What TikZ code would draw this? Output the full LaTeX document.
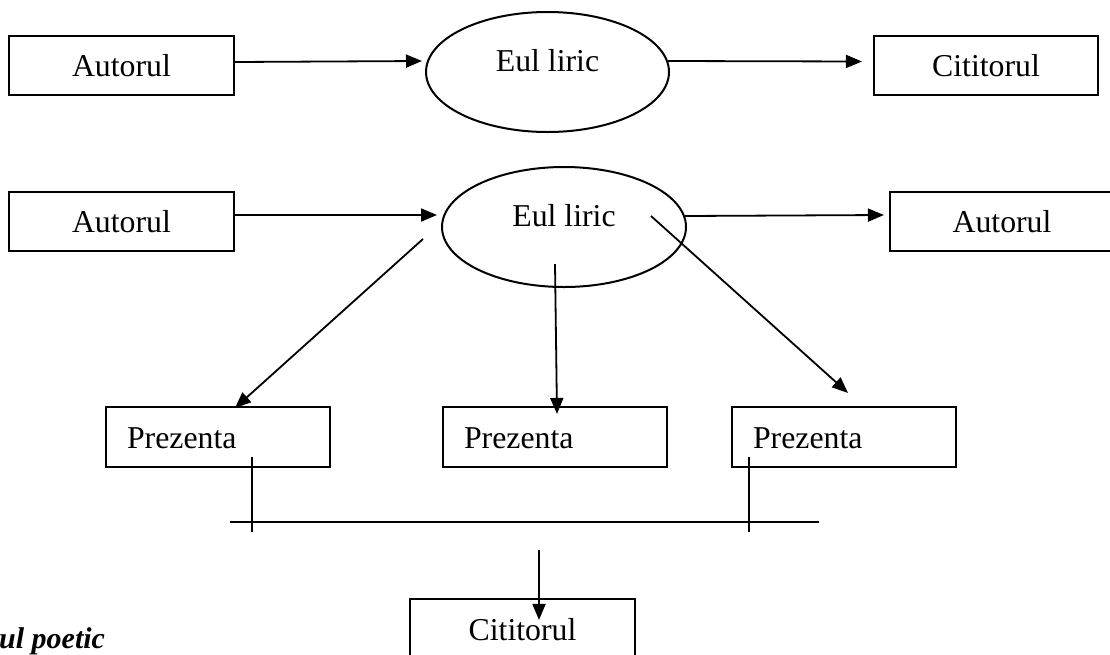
\documentclass[tikz,border=0pt]{standalone}
\usepackage{fontspec}
\setmainfont{Liberation Serif}
\usetikzlibrary{shapes.geometric,arrows.meta,calc}
\begin{document}
\begin{tikzpicture}[x=1pt,y=-1pt,
  every node/.style={font=\fontsize{31.8}{38}\selectfont},
  box/.style={draw, line width=2.1pt, rectangle, inner sep=0pt, text height=22pt, text depth=0pt},
  oval/.style={draw, line width=2pt, ellipse, inner sep=0pt, minimum width=243pt,
               minimum height=120pt, text height=22pt, text depth=24pt},
  leftbox/.style={box, text width=182pt, inner xsep=21pt, align=left, minimum height=60pt},
  link/.style={line width=1.8pt, -{Triangle[length=16pt,width=13pt]}},
  plain/.style={line width=1.8pt}
]
\useasboundingbox (0,0) rectangle (1110,654);

% first chain
\node[box, minimum width=225pt, minimum height=59pt] (a1) at (121.5,65.5) {Autorul};
\node[oval] (e1) at (547.5,72) {Eul liric};
\node[box, minimum width=224pt, minimum height=59pt] (c1) at (986,65.5) {Cititorul};

% second chain
\node[box, minimum width=225pt, minimum height=59pt] (a2) at (121.5,221.5) {Autorul};
\node[oval, minimum width=244pt] (e2) at (564,227) {Eul liric};
\node[box, minimum width=224pt, minimum height=59pt] (a3) at (1002,221.5) {Autorul};

\node[leftbox] (p1) at (218,437) {Prezenta};
\node[leftbox] (p2) at (555,437) {Prezenta};
\node[leftbox] (p3) at (844,437) {Prezenta};

\node[box, minimum width=225pt, minimum height=60pt] (c2) at (522.5,629) {Cititorul};

\node[anchor=base west, inner sep=0pt, font=\fontsize{30}{36}\selectfont\bfseries\itshape] (tl) at (-1,648) {ul poetic};

% free ends of the joining bar
\coordinate (hl) at (230,522);
\coordinate (hr) at (819,522);
\coordinate (t1) at (252,532);
\coordinate (t3) at (749,532);
\coordinate (s) at (539,550);

% connectors
\draw[link] ($(a1.east)+(0,-3.5)$) -- ($(e1.west)+(-3,-11)$);
\draw[link] ($(e1.east)+(-2,-11)$) -- ($(c1.west)+(-11,-4)$);
\draw[link] ($(a2.east)+(0,-6.5)$) -- ($(e2.west)+(-4,-12)$);
\draw[link] ($(e2.east)+(-2,-11)$) -- ($(a3.west)+(-5,-6.5)$);
\draw[link] ($(e2.west)+(-18,12)$) -- ($(p1.north)+(17,2)$);
\draw[link] ($(e2.south)+(-9,-24)$) -- ($(p2.north)+(2,8)$);
\draw[link] ($(e2.east)+(-36,-11)$) -- ($(p3.north)+(4,-13)$);
\draw[plain] (hl) -- (hr);
\draw[plain] ($(p1.south)+(34,-11)$) -- (t1);
\draw[plain] ($(p3.south)+(-95,-11)$) -- (t3);
\draw[link] (s) -- ($(c2.north)+(16.5,22)$);
\end{tikzpicture}
\end{document}
